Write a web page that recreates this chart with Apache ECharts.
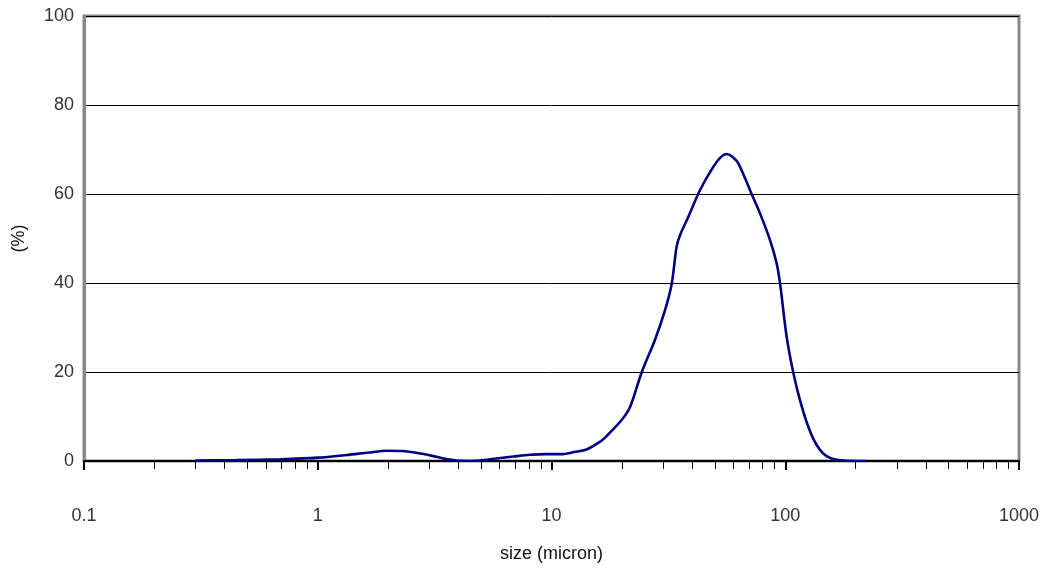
<!DOCTYPE html>
<html>
<head>
<meta charset="utf-8">
<script src="https://cdn.jsdelivr.net/npm/echarts@6/dist/echarts.min.js"></script>
<style>
html,body{margin:0;padding:0;background:#fff;}
#chart{width:1050px;height:572px;}
</style>
</head>
<body>
<div id="chart"></div>
<script>
// particle size (micron) and frequency (%)
var sizes = [0.30, 0.45, 0.69, 1.00, 1.33, 1.65, 1.97, 2.30, 2.56, 3.12, 3.50, 3.93, 4.48, 4.94, 5.80, 6.87, 8.10, 9.50, 11.2, 12.5, 14.1, 16.1, 17.2, 19.95, 21.7, 24.3, 27.7, 30.6, 32.7, 34.3, 35.5, 38.5, 43.2, 49.2, 53.0, 56.2, 59.0, 63.0, 71.8, 77.9, 86.0, 91.9, 95.0, 101.4, 108.2, 115.6, 125.5, 136.3, 150.3, 177, 222];
var values = [0.1, 0.2, 0.4, 0.75, 1.35, 1.9, 2.3, 2.25, 1.95, 1.1, 0.5, 0.1, 0.0, 0.1, 0.55, 1.0, 1.4, 1.55, 1.55, 2.0, 2.6, 4.3, 5.6, 9.2, 12.2, 19.9, 27.2, 33.9, 39.9, 48.2, 50.8, 54.9, 60.9, 66.1, 68.3, 69.0, 68.5, 66.9, 60.0, 55.7, 49.7, 44.4, 39.9, 27.9, 19.9, 13.7, 7.7, 3.6, 1.1, 0.1, 0.0];
var majorTicks = [0.1, 1, 10, 100, 1000];
var minorTicks = [0.2,0.3,0.4,0.5,0.6,0.7,0.8,0.9, 2,3,4,5,6,7,8,9, 20,30,40,50,60,70,80,90, 200,300,400,500,600,700,800,900];
var yTicks = [0, 20, 40, 60, 80, 100];

var data = sizes.map(function (s, i) { return [s, values[i]]; });
var chart = echarts.init(document.getElementById('chart'));
var font = 'Liberation Sans, Arial, sans-serif';
chart.setOption({
  animation: false,
  grid: { left: 84, right: 31, top: 16, bottom: 111, show: true, borderColor: '#888', borderWidth: 3, backgroundColor: 'transparent' },
  xAxis: [{
    type: 'log', logBase: 10, min: 0.1, max: 1000,
    position: 'bottom',
    name: 'size (micron)', nameLocation: 'middle', nameGap: 84,
    nameTextStyle: { color: '#111', fontSize: 18, fontFamily: font },
    axisLine: { show: true, lineStyle: { color: '#000', width: 2 } },
    axisTick: { show: true, customValues: majorTicks, length: 9, lineStyle: { color: '#000', width: 2 } },
    axisLabel: { customValues: majorTicks, margin: 46, color: '#333', fontSize: 18, fontFamily: font,
      formatter: function (v) { return String(+v.toPrecision(6)); } },
    splitLine: { show: false }, minorTick: { show: false }
  }, {
    type: 'log', logBase: 10, min: 0.1, max: 1000,
    position: 'bottom', gridIndex: 0,
    axisLine: { show: false },
    axisTick: { show: true, customValues: minorTicks, length: 8, lineStyle: { color: '#000', width: 1 } },
    axisLabel: { show: false },
    splitLine: { show: false }
  }],
  yAxis: {
    type: 'value', min: 0, max: 100, interval: 20,
    name: '(%)', nameLocation: 'middle', nameGap: 56, nameRotate: 90,
    nameTextStyle: { color: '#111', fontSize: 18, fontFamily: font },
    axisLine: { show: true, lineStyle: { color: '#888', width: 3 } },
    axisTick: { show: false },
    axisLabel: { margin: 10, color: '#333', fontSize: 18, fontFamily: font },
    splitLine: { show: true, lineStyle: { color: '#000', width: 1 } }
  },
  series: [{
    type: 'line', xAxisIndex: 0, data: data,
    smooth: 0.3, showSymbol: false, symbol: 'none',
    lineStyle: { color: '#000080', width: 2.6 }
  }]
});
</script>
</body>
</html>
